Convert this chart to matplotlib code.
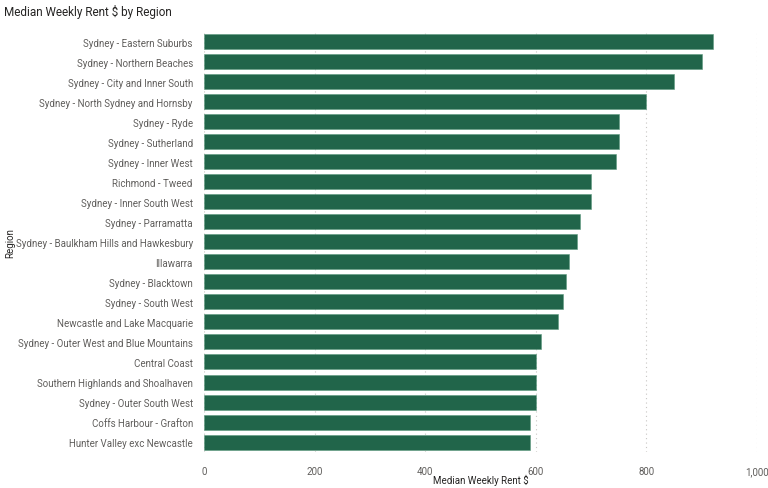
import numpy as np
import matplotlib
matplotlib.use('Agg')
from matplotlib import pyplot as plt
from matplotlib.ticker import FuncFormatter

regions = ['Sydney - Eastern Suburbs', 'Sydney - Northern Beaches',
           'Sydney - City and Inner South', 'Sydney - North Sydney and Hornsby',
           'Sydney - Ryde', 'Sydney - Sutherland', 'Sydney - Inner West',
           'Richmond - Tweed', 'Sydney - Inner South West', 'Sydney - Parramatta',
           'Sydney - Baulkham Hills and Hawkesbury', 'Illawarra',
           'Sydney - Blacktown', 'Sydney - South West',
           'Newcastle and Lake Macquarie', 'Sydney - Outer West and Blue Mountains',
           'Central Coast', 'Southern Highlands and Shoalhaven',
           'Sydney - Outer South West', 'Coffs Harbour - Grafton',
           'Hunter Valley exc Newcastle']
rent = [920, 900, 850, 800, 750, 750, 745, 700, 700, 680, 675, 660,
        655, 650, 640, 610, 600, 600, 600, 590, 590]
xticks = [0, 200, 400, 600, 800, 1000]

plt.rcParams['font.family'] = ['Roboto', 'DejaVu Sans']

fig = plt.figure(figsize=(7.68, 4.89), dpi=100)
ax = fig.add_axes([0.2656, 0.0736, 0.72, 0.859])

y = np.arange(len(regions))
ax.barh(y, rent, height=0.75, color='#21654A', edgecolor='#5E9A80', linewidth=0.4, zorder=3)
ax.set_yticks(y)
ax.set_yticklabels(regions)
ax.set_ylim(len(regions) - 0.5, -0.5)
ax.set_xlim(0, 1000)
ax.set_xticks(xticks)
ax.xaxis.set_major_formatter(FuncFormatter(lambda v, p: f'{int(v):,}'))
ax.grid(axis='x', linestyle=(0, (1, 3)), color='#C8C6C4', linewidth=0.8, zorder=0)
ax.tick_params(axis='both', length=0, labelsize=7, colors='#605E5C')
ax.tick_params(axis='y', pad=8)
ax.tick_params(axis='x', pad=10)
for s in ax.spines.values():
    s.set_visible(False)

ax.set_xlabel('Median Weekly Rent $', fontsize=7, color='#252423')
ax.xaxis.set_label_coords(0.5, -0.052)
ax.set_ylabel('Region', fontsize=7, color='#252423')
ax.yaxis.set_label_coords(-0.342, 0.5)
fig.text(0.005, 0.99, 'Median Weekly Rent $ by Region', fontsize=8.5,
         color='#252423', va='top', ha='left')

fig.savefig('out.png', dpi=100)
